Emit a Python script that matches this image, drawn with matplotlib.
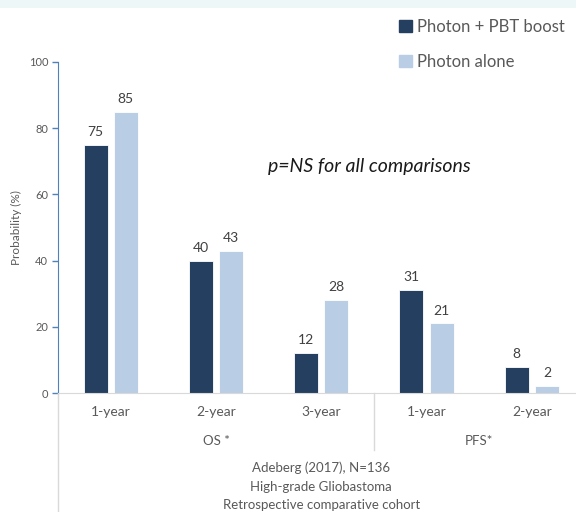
import matplotlib.pyplot as plt
from matplotlib.patches import Patch, Rectangle
import numpy as np

plt.rcParams['font.family'] = ['Lato', 'DejaVu Sans']

categories = ['1-year', '2-year', '3-year', '1-year', '2-year']
groups = ['OS *', 'PFS*']
boost = [75, 40, 12, 31, 8]
alone = [85, 43, 28, 21, 2]
seriesNames = ['Photon + PBT boost', 'Photon alone']
caption = ['Adeberg (2017), N=136', 'High-grade Gliobastoma', 'Retrospective comparative cohort']

DARK = '#243F60'
LIGHT = '#B9CDE5'
GREY = '#595959'
AXIS_BLUE = '#4F81BD'


def main():
  fig = plt.figure(figsize=(5.76, 5.12), dpi=100)

  # pale strip along the top edge
  fig.add_artist(Rectangle((0, 1 - 8 / 512), 1, 8 / 512, transform=fig.transFigure,
                           color='#EDF7F8', lw=0))

  # axes runs a little past the right edge of the figure
  ax = fig.add_axes([58 / 576, 119 / 512, 526.5 / 576, 331 / 512])

  x = np.arange(len(categories))
  w = 0.228
  off = 0.143
  b1 = ax.bar(x - off, boost, w, color=DARK, edgecolor='white', linewidth=0.6)
  b2 = ax.bar(x + off, alone, w, color=LIGHT, edgecolor='white', linewidth=0.6)
  ax.bar_label(b1, padding=5, fontsize=10, color='#404040')
  ax.bar_label(b2, padding=5, fontsize=10, color='#404040')

  ax.set_xlim(-0.5, 4.5)
  ax.set_ylim(0, 100)
  ax.set_yticks(range(0, 101, 20))
  ax.tick_params(axis='y', direction='out', length=4, width=1, color=AXIS_BLUE,
                 labelsize=8, labelcolor=GREY, pad=3)
  ax.set_xticks(x, categories)
  ax.tick_params(axis='x', length=0, labelsize=10, labelcolor=GREY, pad=9)
  ax.set_ylabel('Probability (%)', fontsize=8.5, color=GREY, labelpad=5)

  for side in ['top', 'right']:
    ax.spines[side].set_visible(False)
  ax.spines['left'].set_color(AXIS_BLUE)
  ax.spines['bottom'].set_color('#D9D9D9')

  # group separators and labels under the categories
  tr = ax.get_xaxis_transform()
  ax.plot([-0.5, -0.5], [0, -0.36], transform=tr, color='#D9D9D9', lw=1, clip_on=False)
  ax.plot([2.5, 2.5], [0, -0.172], transform=tr, color='#D9D9D9', lw=1, clip_on=False)
  ax.text(1, -0.145, groups[0], transform=tr, ha='center', va='center', fontsize=9.5, color=GREY)
  ax.text(3.5, -0.145, groups[1], transform=tr, ha='center', va='center', fontsize=9.5, color=GREY)
  for i, line in enumerate(caption):
    ax.text(2, -0.2266 - i * 0.056, line, transform=tr, ha='center', va='center',
            fontsize=9.5, color=GREY)

  ax.text(2.458, 0.685, 'p=NS for all comparisons', transform=tr, ha='center', va='center',
          fontsize=14, style='italic', color='#1A1A1A')

  handles = [Patch(color=DARK), Patch(color=LIGHT)]
  fig.legend(handles, seriesNames, loc='upper left', bbox_to_anchor=(399 / 576, 1 - 19 / 512),
             frameon=False, fontsize=12, labelcolor=GREY, handlelength=0.75, handleheight=0.75,
             handletextpad=0.35, labelspacing=1.15, borderaxespad=0, borderpad=0)

  fig.savefig('out.png', dpi=100)


if __name__ == "__main__":
  main()
